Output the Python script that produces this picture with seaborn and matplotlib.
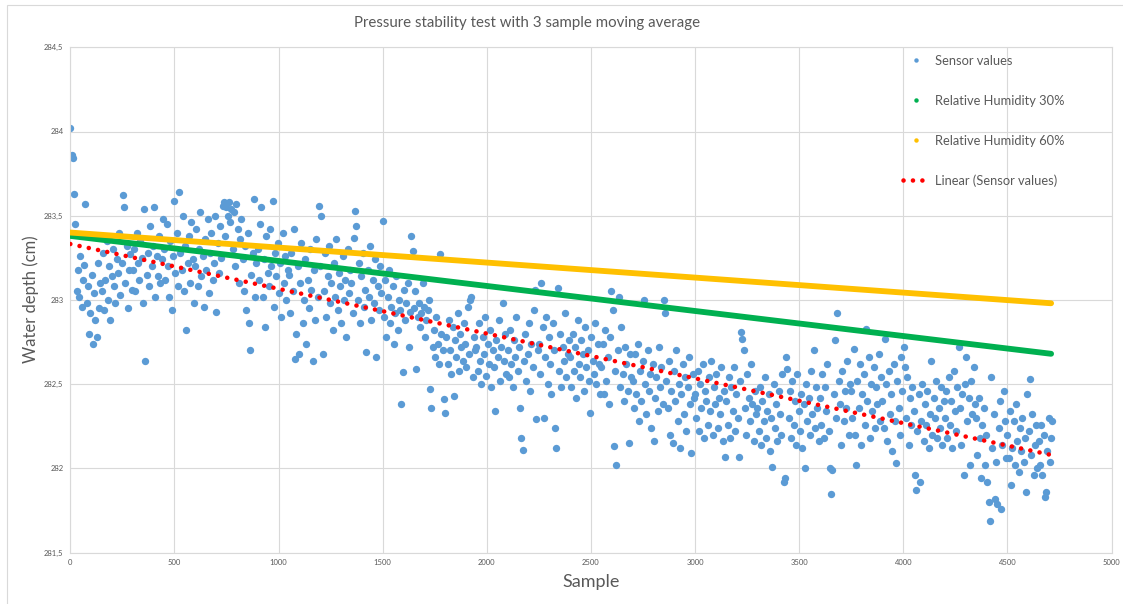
import numpy as np
import pandas as pd
import matplotlib
matplotlib.use("Agg")
import matplotlib.pyplot as plt
import seaborn as sns
from matplotlib.lines import Line2D
from matplotlib.patches import Rectangle

# ---------------- data ----------------
title = "Pressure stability test with 3 sample moving average"
x_label = "Sample"
y_label = "Water depth (cm)"
series_names = ["Sensor values", "Relative Humidity 30%", "Relative Humidity 60%", "Linear (Sensor values)"]

sample_step = 6  # every 6th sample of the recording
sensor_values = [
    284.02, 283.86, 283.84, 283.63, 283.45, 283.05, 283.18, 283.02, 283.26, 282.96, 283.12, 283.21, 283.57, 282.98, 283.08, 282.80, 282.92, 283.15, 282.74, 283.04, 282.88, 282.78, 283.22, 282.95, 283.10,
    283.05, 283.28, 282.94, 283.12, 283.35, 283.00, 283.20, 282.88, 283.14, 283.30, 283.08, 282.98, 283.24, 283.16, 283.40, 283.03, 283.22, 283.62, 283.55, 283.10, 283.32, 282.95, 283.18, 283.27, 283.06,
    283.18, 283.30, 283.05, 283.40, 283.22, 283.12, 283.35, 283.25, 282.98, 283.54, 282.64, 283.15, 283.28, 283.08, 283.44, 283.20, 283.32, 283.55, 283.02, 283.26, 283.14, 283.38, 283.10, 283.24, 283.48,
    283.30, 283.12, 283.45, 283.20, 283.02, 283.35, 282.94, 283.26, 283.59, 283.16, 283.40, 283.08, 283.64, 283.28, 283.18, 283.50, 283.05, 283.32, 282.82, 283.22, 283.38, 283.10, 283.46, 283.24, 282.98,
    283.20, 283.42, 283.08, 283.30, 283.52, 283.14, 283.26, 282.96, 283.36, 283.18, 283.48, 283.04, 283.28, 283.40, 283.12, 283.22, 283.50, 282.93, 283.34, 283.16, 283.44, 283.25, 283.56, 283.58, 283.38,
    283.55, 283.50, 283.58, 283.46, 283.54, 283.30, 283.52, 283.20, 283.57, 283.42, 283.10, 283.36, 283.48, 283.24, 283.05, 283.32, 282.94, 283.40, 282.86, 282.70, 283.15, 283.28, 283.60, 283.02, 283.22,
    283.30, 283.12, 283.45, 283.55, 283.02, 283.24, 282.84, 283.38, 283.16, 283.08, 283.42, 283.20, 283.59, 282.96, 283.28, 283.14, 283.34, 283.04, 283.22, 282.90, 283.40, 283.10, 283.26, 283.00, 283.18,
    283.15, 282.92, 283.28, 283.05, 283.42, 282.65, 282.80, 283.20, 282.68, 283.10, 283.34, 282.86, 283.00, 283.24, 282.74, 283.12, 282.95, 283.30, 283.06, 282.64, 283.18, 282.88, 283.36, 283.02, 283.56,
    283.20, 283.50, 282.68, 283.05, 283.28, 282.90, 283.14, 283.32, 282.98, 283.10, 282.82, 283.22, 283.02, 283.36, 282.94, 283.16, 283.08, 282.86, 283.26, 283.00, 283.12, 282.78, 283.30, 283.04, 283.18,
    283.10, 282.92, 283.37, 283.53, 283.44, 283.00, 283.22, 282.86, 283.14, 283.28, 282.96, 283.06, 282.69, 283.18, 283.02, 283.32, 282.88, 283.12, 282.98, 283.24, 282.66, 283.08, 282.94, 283.20, 283.04,
    283.47, 282.90, 283.12, 282.78, 283.02, 283.18, 282.86, 282.96, 283.08, 282.74, 282.92, 283.14, 282.82, 283.00, 282.94, 282.38, 282.57, 283.06, 282.88, 282.98, 283.10, 282.72, 282.93, 283.38, 283.29,
    282.95, 283.05, 282.59, 282.90, 282.98, 282.84, 282.92, 283.10, 282.96, 282.78, 282.88, 282.94, 283.00, 282.47, 282.36, 282.72, 282.82, 282.66, 282.90, 282.74, 282.62, 283.27, 282.80, 282.70, 282.41,
    282.33, 282.78, 282.62, 282.88, 282.70, 282.56, 282.84, 282.43, 282.76, 282.66, 282.92, 282.58, 282.80, 282.72, 282.64, 282.86, 282.74, 282.60, 282.96, 282.68, 283.00, 283.02, 282.54, 282.78, 282.70,
    282.72, 282.58, 282.86, 282.64, 282.50, 282.78, 282.68, 282.90, 282.55, 282.74, 282.62, 282.82, 282.48, 282.70, 282.60, 282.34, 282.76, 282.66, 282.88, 282.52, 282.72, 282.98, 282.64, 282.80, 282.56,
    282.70, 282.54, 282.82, 282.62, 282.48, 282.76, 282.66, 282.90, 282.58, 282.72, 282.36, 282.18, 282.11, 282.64, 282.80, 282.52, 282.68, 282.86, 282.46, 282.74, 282.60, 282.94, 283.06, 282.29, 282.70,
    282.74, 282.56, 283.10, 282.84, 282.30, 282.66, 282.90, 282.50, 282.78, 282.62, 282.44, 282.86, 282.70, 282.24, 282.12, 283.07, 282.58, 282.80, 282.48, 282.72, 282.64, 282.92, 282.54, 282.68, 282.76,
    282.66, 282.48, 282.80, 282.58, 282.72, 282.42, 282.88, 282.62, 282.54, 282.76, 282.68, 282.46, 282.84, 282.60, 282.70, 282.52, 282.33, 282.78, 282.64, 282.56, 282.86, 282.50, 282.74, 282.62, 282.44,
    282.60, 282.74, 282.44, 282.82, 282.52, 282.66, 282.38, 282.78, 283.05, 282.94, 282.13, 282.58, 282.02, 282.70, 283.02, 282.48, 282.84, 282.56, 282.40, 282.72, 282.62, 282.46, 282.15, 282.68, 282.54,
    282.52, 282.36, 282.68, 282.44, 282.74, 282.28, 282.58, 282.40, 282.64, 283.00, 282.50, 282.32, 282.70, 282.46, 282.56, 282.24, 282.62, 282.16, 282.42, 282.54, 282.34, 282.72, 282.48, 282.60, 282.38,
    283.00, 282.92, 282.52, 282.36, 282.64, 282.20, 282.46, 282.15, 282.58, 282.40, 282.70, 282.28, 282.50, 282.12, 282.44, 282.62, 282.32, 282.54, 282.22, 282.48, 282.66, 282.38, 282.09, 282.56, 282.42,
    282.44, 282.30, 282.58, 282.22, 282.50, 282.36, 282.62, 282.18, 282.46, 282.40, 282.26, 282.54, 282.34, 282.64, 282.20, 282.48, 282.38, 282.56, 282.24, 282.42, 282.32, 282.60, 282.16, 282.46, 282.07,
    282.40, 282.26, 282.54, 282.18, 282.48, 282.34, 282.60, 282.22, 282.44, 282.30, 282.07, 282.52, 282.81, 282.77, 282.70, 282.36, 282.20, 282.56, 282.42, 282.28, 282.62, 282.38, 282.16, 282.46, 282.32,
    282.36, 282.22, 282.48, 282.14, 282.40, 282.28, 282.54, 282.18, 282.34, 282.44, 282.10, 282.30, 282.01, 282.50, 282.24, 282.38, 282.16, 282.46, 282.32, 282.20, 282.56, 281.92, 281.94, 282.66, 282.59,
    282.30, 282.46, 282.18, 282.52, 282.26, 282.40, 282.14, 282.56, 282.34, 282.22, 282.44, 282.12, 282.38, 282.00, 282.50, 282.28, 282.42, 282.20, 282.58, 282.32, 282.70, 282.24, 282.48, 282.36, 282.16,
    282.42, 282.26, 282.56, 282.18, 282.48, 282.34, 282.62, 282.22, 282.00, 281.85, 281.99, 282.44, 282.76, 282.30, 282.92, 282.52, 282.38, 282.14, 282.58, 282.28, 282.46, 282.36, 282.64, 282.20, 282.50,
    282.46, 282.30, 282.71, 282.20, 282.02, 282.52, 282.36, 282.62, 282.14, 282.44, 282.56, 282.26, 282.83, 282.40, 282.66, 282.18, 282.50, 282.34, 282.60, 282.24, 282.48, 282.38, 282.68, 282.28, 282.54,
    282.40, 282.24, 282.77, 282.50, 282.16, 282.58, 282.32, 282.44, 282.10, 282.62, 282.28, 282.03, 282.52, 282.36, 282.20, 282.66, 282.46, 282.72, 282.60, 282.30, 282.54, 282.14, 282.42, 282.26, 282.48,
    282.34, 281.96, 281.87, 282.22, 282.44, 281.92, 282.28, 282.50, 282.16, 282.38, 282.26, 282.46, 282.12, 282.32, 282.64, 282.20, 282.42, 282.30, 282.52, 282.18, 282.36, 282.24, 282.48, 282.14, 282.40,
    282.30, 282.46, 282.18, 282.54, 282.26, 282.40, 282.12, 282.58, 282.34, 282.22, 282.48, 282.72, 282.36, 282.14, 282.44, 281.96, 282.50, 282.66, 282.28, 282.42, 282.02, 282.52, 282.32, 282.60, 282.38,
    282.30, 282.08, 282.42, 282.18, 281.94, 282.26, 282.36, 282.02, 282.20, 281.92, 281.80, 281.69, 282.54, 282.12, 282.32, 281.82, 282.04, 281.79, 282.24, 282.40, 281.76, 282.14, 282.46, 282.28, 282.06,
    282.20, 282.06, 282.34, 281.90, 282.12, 282.28, 282.02, 282.38, 282.16, 281.98, 282.24, 282.10, 282.30, 282.04, 282.18, 281.86, 282.44, 282.22, 282.53, 282.08, 282.32, 281.96, 282.14, 282.26, 282.00,
    282.16, 282.02, 282.26, 281.96, 282.20, 281.83, 281.86, 282.10, 282.30, 282.04, 282.18, 282.28,
]
samples = [i * sample_step for i in range(len(sensor_values))]

rh30_samples = [0, 4710]
rh30_values = [283.38, 282.68]
rh60_samples = [0, 4710]
rh60_values = [283.40, 282.98]

x_ticks = [0, 500, 1000, 1500, 2000, 2500, 3000, 3500, 4000, 4500, 5000]
y_ticks = [281.5, 282.0, 282.5, 283.0, 283.5, 284.0, 284.5]
y_tick_labels = ["281,5", "282", "282,5", "283", "283,5", "284", "284,5"]

# ---------------- style ----------------
c_blue, c_green, c_yellow, c_red = "#5B9BD5", "#00B050", "#FFC000", "#FF0000"
grid_c = "#D9D9D9"
text_c = "#595959"

sns.set_theme(style="whitegrid", rc={"grid.color": grid_c, "grid.linewidth": 0.8,
                                     "axes.edgecolor": grid_c, "axes.linewidth": 0.8})
plt.rcParams["font.family"] = ["Lato", "DejaVu Sans"]

W, H = 1123, 604
fig = plt.figure(figsize=(W / 100, H / 100), dpi=100)
fig.patch.set_facecolor("white")
L, R, T, B = 70.3, 1111.5, 47.3, 552.5
ax = fig.add_axes([L / W, 1 - B / H, (R - L) / W, (B - T) / H])

df = pd.DataFrame({"Sample": samples, "Depth": sensor_values})
sns.scatterplot(data=df, x="Sample", y="Depth", ax=ax, s=28, color=c_blue,
                linewidth=0, alpha=1, zorder=2, legend=False)
sns.lineplot(x=rh30_samples, y=rh30_values, ax=ax, color=c_green, lw=4.2, zorder=3)
sns.lineplot(x=rh60_samples, y=rh60_values, ax=ax, color=c_yellow, lw=4.2, zorder=4)

slope, intercept = np.polyfit(np.array(samples, float), np.array(sensor_values), 1)
tx = np.array([samples[0], samples[-1]], float)
dot_style = (0, (0.01, 2.05))
ax.plot(tx, intercept + slope * tx, color=c_red, lw=3.3, linestyle=dot_style,
        dash_capstyle="round", zorder=5)

ax.set_xlim(0, 5000)
ax.set_ylim(281.5, 284.5)
ax.set_xticks(x_ticks)
ax.set_yticks(y_ticks)
ax.set_yticklabels(y_tick_labels)
ax.tick_params(length=0, labelsize=5.5, colors=text_c, pad=5)
ax.set_axisbelow(True)
ax.grid(True, color=grid_c, lw=0.8)
for sp in ax.spines.values():
    sp.set_color(grid_c)
    sp.set_linewidth(0.8)
ax.set_xlabel("")
ax.set_ylabel("")

fig.text(527 / W, 1 - 23 / H, title, ha="center", va="center", fontsize=10.8, color=text_c)
fig.text(591 / W, 1 - 582 / H, x_label, ha="center", va="center", fontsize=13, color=text_c)
fig.text(31 / W, 1 - 299 / H, y_label, ha="center", va="center", rotation=90, fontsize=12, color=text_c)

handles = [
    Line2D([], [], marker="o", linestyle="None", markersize=3.2, color=c_blue, markeredgewidth=0),
    Line2D([], [], marker="o", linestyle="None", markersize=3.2, color=c_green, markeredgewidth=0),
    Line2D([], [], marker="o", linestyle="None", markersize=3.2, color=c_yellow, markeredgewidth=0),
    Line2D([], [], color=c_red, lw=3.3, linestyle=dot_style, dash_capstyle="round"),
]
ax.legend(handles, series_names, loc="upper left", bbox_to_anchor=(903 / W, 1 - 55 / H),
          bbox_transform=fig.transFigure, frameon=False, fontsize=9.3, labelcolor=text_c,
          labelspacing=2.15, handlelength=2.0, handletextpad=0.45, borderpad=0, borderaxespad=0)

fig.add_artist(Rectangle((7 / W, -0.05), 1.0, 1 - 5 / H + 0.05, transform=fig.transFigure,
                         fill=False, edgecolor=grid_c, lw=0.8))

fig.savefig("out.png", dpi=100)
